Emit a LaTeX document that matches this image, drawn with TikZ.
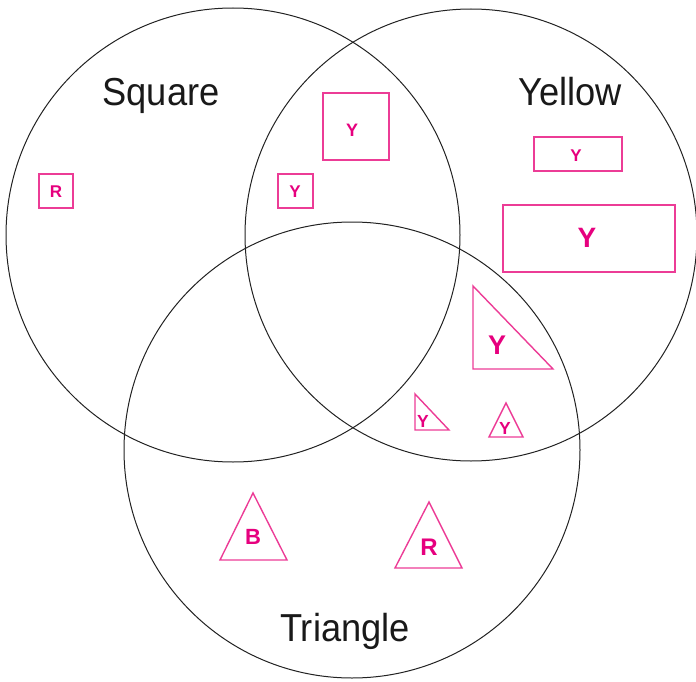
\documentclass[tikz,border=0pt]{standalone}
\usepackage{fontspec}
\setmainfont{Liberation Sans}
\definecolor{pinkline}{HTML}{EC3C96}
\definecolor{pinktext}{HTML}{E6007E}
\definecolor{ringcol}{HTML}{222222}
\begin{document}
\begin{tikzpicture}[x=1pt,y=-1pt,
  ring/.style={draw=ringcol,line width=1pt},
  setlabel/.style={anchor=base,inner sep=0pt,font=\fontsize{39}{39}\selectfont,xscale=0.93,text=black!90},
  shp/.style={draw=pinkline,line width=1.4pt,line join=miter},
  tag/.style={inner sep=0pt,text=pinktext,font=\bfseries\fontsize{#1}{#1}\selectfont}]
\useasboundingbox (0,0) rectangle (696,682);
% circles
\node[ring,circle,minimum size=454pt,inner sep=0pt] (sq) at (233,235) {};
\node[ring,circle,minimum size=452pt,inner sep=0pt] (ye) at (471,235) {};
\node[ring,circle,minimum size=456pt,inner sep=0pt] (tr) at (352,450) {};
% set labels
\node[setlabel] (lsq) at (161,106) {Square};
\node[setlabel] (lye) at (570,106) {Yellow};
\node[setlabel] (ltr) at (345,641) {Triangle};
% squares and rectangles
\draw[shp] (39,174) rectangle (73,208);
\node[tag=17] (r1) at (56,192) {R};
\draw[shp] (323,93) rectangle (389,160);
\node[tag=18] (y1) at (352,130) {Y};
\draw[shp] (278,174) rectangle (313,208);
\node[tag=17] (y2) at (295,192) {Y};
\draw[shp] (534,137) rectangle (622,171);
\node[tag=17] (y3) at (576,156) {Y};
\draw[shp] (503,205) rectangle (675,272);
\node[tag=28] (y4) at (587,238) {Y};
% triangles
\draw[shp] (473,286) -- (473,369) -- (553,369) -- cycle;
\node[tag=27] (y5) at (497,345) {Y};
\draw[shp] (415,394) -- (415,430) -- (449,430) -- cycle;
\node[tag=17.5] (y6) at (423,421) {Y};
\draw[shp] (506,403) -- (489,437) -- (523,437) -- cycle;
\node[tag=17.5] (y7) at (505,428) {Y};
\draw[shp] (253,493) -- (220,560) -- (287,560) -- cycle;
\node[tag=22] (b1) at (253,537) {B};
\draw[shp] (429,502) -- (395,568) -- (462,568) -- cycle;
\node[tag=24] (r2) at (429,547) {R};
\end{tikzpicture}
\end{document}
